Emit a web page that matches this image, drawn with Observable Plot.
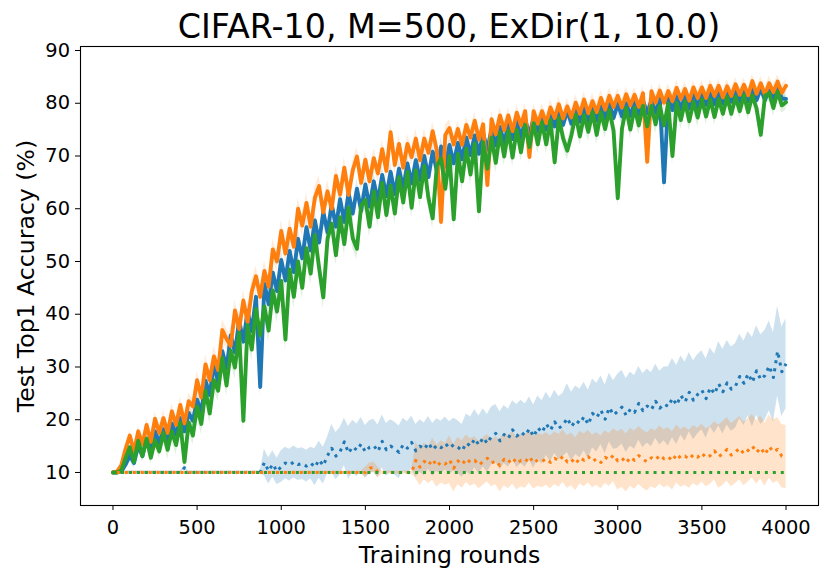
<!DOCTYPE html>
<html><head><meta charset="utf-8">
<script src="https://cdn.jsdelivr.net/npm/d3@7"></script>
<script src="https://cdn.jsdelivr.net/npm/@observablehq/plot@0.6"></script>
<style>
html,body{margin:0;padding:0;background:#fff;}
#title{box-sizing:border-box;width:830px;height:40px;padding-top:10px;padding-left:68px;text-align:center;font-family:"DejaVu Sans";font-size:33.3px;line-height:33.3px;color:#000;white-space:nowrap;}
</style></head><body>
<div id="title">CIFAR-10, M=500, ExDir(1, 10.0)</div>
<div id="chart"></div>
<script>
// Training rounds sampled every 25 rounds (0 .. 4000)
const rounds = d3.range(0, 4001, 25);
const xTicks = [0, 500, 1000, 1500, 2000, 2500, 3000, 3500, 4000];
const yTicks = [10, 20, 30, 40, 50, 60, 70, 80, 90];

// Solid series (mean test accuracy)
const blueMean = [
10.0,10.0,10.2,11.5,13.2,11.8,15.1,13.1,16.4,14.1,17.8,15.6,18.2,15.8,19.3,17.2,20.3,17.8,21.3,19.8,
23.8,21.3,27.4,24.7,30.6,27.1,33.0,29.7,36.0,32.8,38.8,34.8,40.6,36.8,43.3,26.2,45.8,41.9,47.9,44.4,
50.3,46.4,52.0,48.0,54.3,50.6,56.5,52.1,57.8,53.6,59.4,55.5,60.9,56.6,61.8,57.5,63.0,59.1,63.8,59.6,
64.6,60.4,65.2,61.4,66.4,62.4,67.0,62.8,67.6,63.8,68.6,64.8,69.2,65.4,70.0,66.0,70.8,67.2,71.8,68.0,
72.1,68.6,72.5,69.4,73.5,70.2,73.9,70.4,74.3,71.2,75.1,72.0,75.5,72.4,76.1,73.2,76.6,73.4,76.9,74.0,
77.2,74.7,77.4,75.0,77.9,75.6,78.4,75.9,78.6,76.1,78.9,76.5,79.2,76.6,79.2,76.7,79.5,77.1,79.8,77.2,
79.9,77.5,80.0,77.6,80.2,77.9,80.5,78.1,80.6,78.2,80.8,65.0,81.0,78.7,81.3,78.9,81.4,79.0,81.6,79.3,
81.7,79.7,81.9,79.8,82.0,80.0,82.3,80.3,82.5,80.3,82.5,80.4,82.7,80.6,82.8,80.6,82.8,80.7,83.0,80.9,
80.8];
const orangeMean = [
10.0,10.2,11.4,14.5,17.0,14.0,17.8,15.3,19.0,15.8,20.2,17.5,20.3,17.5,21.6,19.0,22.8,19.3,23.5,22.5,
27.5,24.2,30.5,27.5,32.0,29.4,37.0,35.3,34.0,40.7,37.2,42.6,38.5,44.3,47.2,43.3,48.2,45.2,52.3,50.0,
55.8,51.5,56.2,52.8,60.0,56.8,61.1,56.6,62.1,64.3,59.3,63.3,60.0,66.2,62.7,67.8,62.6,67.3,69.9,64.9,
69.3,65.2,69.6,66.7,71.3,67.2,74.5,68.3,72.3,67.8,72.3,69.8,73.3,69.2,73.3,70.6,74.7,71.0,57.5,74.0,
75.3,72.2,75.1,72.1,75.9,73.5,76.7,73.1,76.0,64.5,77.0,74.1,77.7,74.9,77.7,74.7,78.2,75.8,78.5,69.8,
78.5,76.1,78.5,76.2,79.2,77.2,79.8,77.1,79.4,77.3,80.1,78.0,80.7,78.1,80.4,78.3,81.0,78.8,81.4,79.3,
81.4,79.2,81.7,79.6,81.6,79.3,81.9,68.9,82.3,80.1,82.4,80.1,82.3,80.4,82.9,80.8,82.7,80.5,83.0,81.0,
83.0,81.0,83.3,81.4,83.3,81.1,83.2,81.4,83.6,81.6,83.5,81.5,84.2,81.8,83.8,81.6,83.8,82.1,84.1,82.0,
83.3];
const greenMean = [
10.0,10.0,10.4,12.7,14.8,12.0,16.0,13.1,16.4,12.8,16.1,14.0,17.5,14.3,17.8,15.2,19.4,12.0,19.5,17.0,
22.5,19.2,25.5,21.2,27.5,25.5,31.7,26.5,33.1,29.9,36.5,19.8,37.9,33.3,41.0,36.0,41.5,36.9,44.5,40.5,
46.3,35.2,48.5,43.3,50.0,45.0,52.5,47.7,55.0,48.8,43.2,54.3,57.2,51.2,58.4,53.3,60.2,54.4,52.4,60.6,
61.7,56.6,63.3,58.4,64.9,58.8,64.4,59.1,66.0,61.2,67.0,60.2,67.3,62.2,68.1,62.0,58.2,68.2,69.5,63.8,
70.0,58.0,70.4,65.2,71.4,66.5,72.4,59.5,72.6,67.6,73.5,68.7,74.4,69.9,74.8,69.7,75.0,70.7,75.9,71.7,
76.2,72.2,76.4,72.2,76.8,68.8,77.2,73.4,71.0,74.0,77.8,73.7,77.8,74.6,78.3,74.0,78.3,75.1,78.7,74.8,
62.0,75.2,79.1,75.0,79.1,75.8,79.5,75.6,79.5,76.0,79.5,75.8,79.9,70.0,80.1,76.8,80.3,76.6,80.3,77.3,
80.7,77.5,80.7,77.4,80.8,78.0,81.2,78.0,81.2,78.5,81.5,78.3,81.5,79.0,74.0,81.4,81.9,79.1,82.2,79.6,
80.2];

// Dotted series
const blueDot = [
10,10,10,10,10,10,10,10,10,10,10,10,10,10,10,10,10,10.9,10,10,
10,10,10,10,10,10,10,10,10,10,10,10,10,10,10,10,11.9,10.3,11.6,10.2,
11.1,11.8,11.4,12.0,11.5,11.7,11.2,11.8,11.0,12.4,11.3,13.2,14.6,13.1,14.0,15.8,13.7,14.9,14.2,15.4,
13.9,14.8,15.1,14.0,15.9,14.3,15.0,14.5,13.8,15.3,14.6,15.7,14.1,15.0,14.4,15.6,14.3,15.2,14.7,15.5,
14.6,15.3,14.8,14.1,15.6,15.0,16.4,15.2,16.6,15.5,16.9,17.4,16.0,17.2,16.5,18.1,16.9,17.7,17.0,18.3,
16.8,18.5,17.6,19.2,18.0,19.6,18.4,19.0,20.3,18.7,19.9,19.3,20.6,19.1,21.2,20.4,21.8,20.1,22.3,20.9,
21.6,22.4,20.8,22.0,21.4,23.1,21.7,22.6,21.9,23.5,22.2,23.0,22.5,24.1,22.8,24.6,23.4,25.2,23.7,24.8,
25.6,24.0,26.1,24.9,26.8,25.3,27.0,25.8,26.4,28.2,26.9,28.7,27.1,29.3,27.6,28.4,30.2,28.0,33.0,29.1,
30.6];
const orangeDot = [
10,10,10,10,10,10,10,10,10,10,10,10,10,10,10,10,10,10,10,10,
10,10,10,10,10,10,10,10,10,10,10,10,10,10,10,10,10,10,10,10,
10,10,10,10,10,10,10,10,10,10,10,10,10,10,10,10,10,10,10,10,
10,10.8,11.0,10,10,10,10,10,10,10,10,10,12.3,11.0,12.1,11.4,12.5,11.2,12.0,11.6,
12.4,10.8,12.2,11.5,12.6,11.9,12.3,11.4,12.1,12.7,11.8,12.2,11.3,12.5,11.9,12.8,11.7,12.3,12.0,13.0,
11.8,12.4,12.1,12.6,11.9,12.7,12.2,13.1,12.0,12.5,11.6,12.8,12.3,13.0,12.1,12.6,11.9,12.9,12.4,13.3,
12.2,12.7,11.8,12.9,12.3,13.2,12.5,12.0,12.8,12.4,13.3,12.6,13.0,12.2,13.5,12.7,13.1,12.5,13.4,12.9,
13.7,12.8,13.2,14.1,13.0,13.6,14.4,13.3,13.9,14.6,13.5,14.2,15.0,13.8,14.7,13.4,14.9,13.9,14.4,13.1,
12.9];
const greenDot = [
10,10,10,10,10,10,10,10,10,10,10,10,10,10,10,10,10,10,10,10,
10,10,10,10,10,10,10,10,10,10,10,10,10,10,10,10,10,10,10,10,
10,10,10,10,10,10,10,10,10,10,10,10,10,10,10,10,10,10,10,10,
10,10,10,10,10,10,10,10,10,10,10,10,10,10,10,10,10,10,10,10,
10,10,10,10,10,10,10,10,10,10,10,10,10,10,10,10,10,10,10,10,
10,10,10,10,10,10,10,10,10,10,10,10,10,10,10,10,10,10,10,10,
10,10,10,10,10,10,10,10,10,10,10,10,10,10,10,10,10,10,10,10,
10,10,10,10,10,10,10,10,10,10,10,10,10,10,10,10,10,10,10,10,
10];

// Spread (std) every 100 rounds, 0 .. 4000
const blueSd = [0.2,1,1.3,1.5,1.5,1.8,2,2,2,2, 2,2,2,2,1.8,1.8,1.8,1.8,1.8,1.8, 1.6,1.6,1.5,1.5,1.5,1.5,1.5,1.5,1.5,1.5, 1.8,1.5,1.8,1.5,1.5,1.5,1.4,1.4,1.4,1.4, 1.4];
const orangeSd = [0.2,1,1.3,1.5,1.5,1.8,2,2,2,2, 2,2,2,2,1.8,1.8,1.8,1.8,1.8,1.8, 1.6,1.6,1.5,1.5,1.5,1.5,1.5,1.5,1.5,1.5, 1.4,1.4,1.4,1.4,1.3,1.3,1.3,1.3,1.3,1.3, 1.3];
const greenSd = [0.2,1,1.3,1.8,1.8,2,2,2.2,2.2,2.2, 2.2,2.2,2.2,2,2,2,2,2,2,2, 2,2,2,1.8,1.8,1.8,1.8,1.8,1.8,1.8, 1.8,1.8,1.8,1.8,1.8,1.5,1.5,1.5,1.5,1.5, 1.5];
const blueDotSd = [0.3,0.3,0.3,0.3,0.3,0.3,0.3,0.3,0.3,2.5, 3,3,3.5,4.5,5,5,5,5,5,5, 5,5.5,5.5,5.5,6,6,6,6.5,6.5,6.5, 7,7,7,7.5,7.5,7.5,8,8,8.5,8.5, 8.5];
const orangeDotSd = [0.3,0.3,0.3,0.3,0.3,0.3,0.3,0.3,0.3,0.3, 0.3,0.3,0.3,0.3,0.3,1.0,0.3,0.3,3.5,4, 4.5,4.5,4.5,5,5,5,5,5,5,5, 5.5,5.5,5.5,5.5,5.5,5.5,6,6,6,6, 6];

const C = {blue: "#1f77b4", orange: "#ff7f0e", green: "#2ca02c"};

function rows(vals, sd) {
  return vals.map((v, i) => {
    const s = sd ? sd[Math.floor(rounds[i] / 100)] : 0;
    return {x: rounds[i], y: v, lo: v - s, hi: v + s};
  });
}
const bR = rows(blueMean, blueSd), oR = rows(orangeMean, orangeSd), gR = rows(greenMean, greenSd);
const bD = rows(blueDot, blueDotSd), oD = rows(orangeDot, orangeDotSd), gD = rows(greenDot, null);

const solid = {strokeWidth: 3.9, strokeLinejoin: "round"};
const dash = {strokeWidth: 3, strokeDasharray: "3,4.95", strokeLinecap: "butt"};

const chart = Plot.plot({
  width: 830, height: 539,
  marginTop: 6, marginBottom: 74, marginLeft: 80, marginRight: 12,
  x: {domain: [-193, 4193]},
  y: {domain: [3.74, 90.76]},
  style: {fontFamily: "DejaVu Sans", background: "white", color: "black"},
  marks: [
    Plot.areaY(bD, {x: "x", y1: "lo", y2: "hi", fill: C.blue, fillOpacity: 0.22}),
    Plot.areaY(oD, {x: "x", y1: "lo", y2: "hi", fill: C.orange, fillOpacity: 0.22}),
    Plot.areaY(bR, {x: "x", y1: "lo", y2: "hi", fill: C.blue, fillOpacity: 0.15}),
    Plot.areaY(oR, {x: "x", y1: "lo", y2: "hi", fill: C.orange, fillOpacity: 0.15}),
    Plot.areaY(gR, {x: "x", y1: "lo", y2: "hi", fill: C.green, fillOpacity: 0.15}),
    Plot.line(bR, {x: "x", y: "y", stroke: C.blue, ...solid}),
    Plot.line(oR, {x: "x", y: "y", stroke: C.orange, ...solid}),
    Plot.line(gR, {x: "x", y: "y", stroke: C.green, ...solid}),
    Plot.line(bD, {x: "x", y: "y", stroke: C.blue, ...dash}),
    Plot.line(oD, {x: "x", y: "y", stroke: C.orange, ...dash, strokeDashoffset: 4}),
    Plot.line(gD, {x: "x", y: "y", stroke: C.green, ...dash}),
    Plot.frame({stroke: "black", strokeWidth: 1.1}),
    Plot.axisX({ticks: xTicks, tickSize: 5, tickPadding: 9.5, fontSize: 19.4, label: null, tickFormat: d => String(d)}),
    Plot.axisY({ticks: yTicks, tickSize: 5, tickPadding: 5.5, fontSize: 19.4, label: null, tickFormat: d => String(d)}),
    Plot.text(["Training rounds"], {text: d => d, frameAnchor: "bottom", dy: 57, lineAnchor: "bottom", textAnchor: "middle", fontSize: 23.6}),
    Plot.text(["Test Top1 Accuracy (%)"], {text: d => d, frameAnchor: "left", dx: -47, rotate: -90, lineAnchor: "bottom", textAnchor: "middle", fontSize: 23.6})
  ]
});
document.getElementById("chart").appendChild(chart);
</script>
</body></html>
